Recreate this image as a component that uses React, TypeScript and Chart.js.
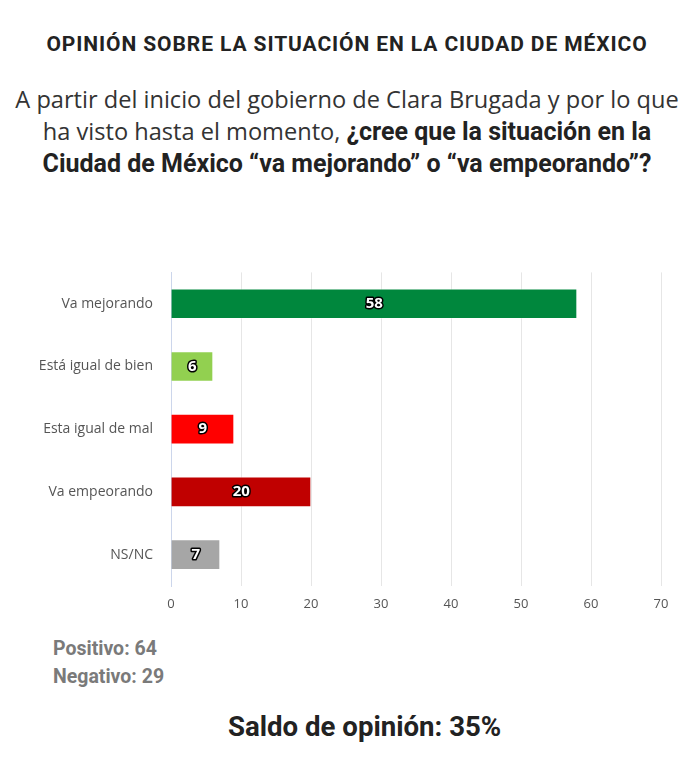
import React, { useEffect, useRef } from "react";
import { Chart, registerables } from "chart.js";

Chart.register(...registerables);

const categories = ["Va mejorando", "Está igual de bien", "Esta igual de mal", "Va empeorando", "NS/NC"];
const values = [58, 6, 9, 20, 7];
const barColors = ["#00873d", "#92d050", "#ff0000", "#c00000", "#a6a6a6"];
const positivo = 64;
const negativo = 29;
const saldo = 35;

const HEAD = "Roboto, 'Liberation Sans', sans-serif";
const BODY = "'Open Sans', 'DejaVu Sans', sans-serif";

const dataLabels = {
  id: "dataLabels",
  afterDatasetsDraw(chart: any) {
    const ctx = chart.ctx;
    const meta = chart.getDatasetMeta(0);
    ctx.save();
    ctx.font = "bold 15px " + BODY;
    ctx.textAlign = "center";
    ctx.textBaseline = "middle";
    ctx.lineJoin = "round";
    meta.data.forEach((bar: any, i: number) => {
      const x = (bar.x + bar.base) / 2;
      const y = bar.y;
      const t = String(chart.data.datasets[0].data[i]);
      ctx.lineWidth = 3;
      ctx.strokeStyle = "#000";
      ctx.strokeText(t, x, y);
      ctx.fillStyle = "#fff";
      ctx.fillText(t, x, y);
    });
    ctx.restore();
  },
};

export default function App() {
  const ref = useRef<HTMLCanvasElement>(null);
  useEffect(() => {
    if (!ref.current) return;
    const chart = new Chart(ref.current, {
      type: "bar",
      data: {
        labels: categories,
        datasets: [
          {
            data: values,
            backgroundColor: barColors,
            borderColor: "rgba(255,255,255,0.35)",
            borderWidth: 1,
            barThickness: 30,
          },
        ],
      },
      options: {
        indexAxis: "y",
        animation: false,
        responsive: false,
        maintainAspectRatio: false,
        layout: { padding: { top: 7, right: 33, bottom: 19, left: 0 } },
        plugins: { legend: { display: false }, tooltip: { enabled: false } },
        scales: {
          x: {
            min: 0,
            max: 70,
            ticks: { stepSize: 10, color: "#555", font: { family: BODY, size: 13 }, padding: 10 },
            grid: { color: "#e6e6e6", drawTicks: false },
            border: { display: false },
            afterFit: (s: any) => {
              s.height = 30;
            },
          },
          y: {
            ticks: { color: "#555", font: { family: BODY, size: 14 }, padding: 18 },
            grid: { display: false, drawTicks: false },
            border: { display: true, color: "#ccd6eb" },
            afterFit: (s: any) => {
              s.width = 171;
            },
          },
        },
      },
      plugins: [dataLabels],
    } as any);
    return () => chart.destroy();
  }, []);

  const abs = (top: number, extra: React.CSSProperties = {}): React.CSSProperties => ({
    position: "absolute",
    left: 0,
    width: 694,
    top,
    ...extra,
  });

  return (
    <div style={{ position: "absolute", left: 0, top: 0, width: 694, height: 762, background: "#fff", overflow: "hidden" }}>
      <div style={abs(29, { textAlign: "center", fontFamily: HEAD, fontWeight: 700, fontSize: 21, lineHeight: "30px", letterSpacing: 0.9, color: "#222" })}>
        OPINIÓN SOBRE LA SITUACIÓN EN LA CIUDAD DE MÉXICO
      </div>
      <div style={abs(83, { textAlign: "center", fontFamily: BODY, fontSize: 23.6, lineHeight: "32px", color: "#333" })}>
        <div>A partir del inicio del gobierno de Clara Brugada y por lo que</div>
        <div>
          ha visto hasta el momento,{" "}
          <span style={{ fontFamily: HEAD, fontWeight: 700, fontSize: 25, color: "#222" }}>¿cree que la situación en la</span>
        </div>
        <div style={{ fontFamily: HEAD, fontWeight: 700, fontSize: 25, color: "#222" }}>
          Ciudad de México “va mejorando” o “va empeorando”?
        </div>
      </div>
      <canvas ref={ref} width={694} height={389} style={{ position: "absolute", left: 0, top: 246, width: 694, height: 389 }} />
      <div style={{ position: "absolute", left: 53, top: 635, fontFamily: HEAD, fontWeight: 700, fontSize: 19.5, lineHeight: "28px", color: "#7a7a7a" }}>
        <div>Positivo: {positivo}</div>
        <div>Negativo: {negativo}</div>
      </div>
      <div style={{ position: "absolute", left: 228, top: 710, fontFamily: HEAD, fontWeight: 700, fontSize: 27.6, lineHeight: "34px", color: "#222", whiteSpace: "nowrap" }}>
        Saldo de opinión: {saldo}%
      </div>
    </div>
  );
}
